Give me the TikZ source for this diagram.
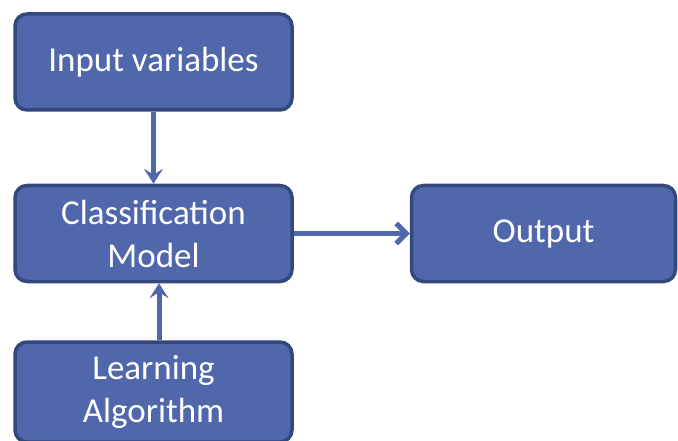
\documentclass[tikz,border=0pt]{standalone}
\usepackage{fontspec}
\setmainfont{Carlito}
\usetikzlibrary{arrows.meta, positioning}
\definecolor{boxblue}{HTML}{5067AC}
\definecolor{boxedge}{HTML}{33497E}

\begin{document}
\begin{tikzpicture}[node distance=72pt and 116pt, every node/.style={font=\fontsize{35}{43}\selectfont}]
\tikzstyle{block} = [rectangle, rounded corners=12pt, minimum width=277pt, minimum height=96pt, text centered, align=center, draw=boxedge, line width=3.5pt, fill=boxblue, text=white]
\tikzstyle{arrow} = [line width=5pt, draw=boxblue, -{Stealth[length=15pt, width=19pt, inset=6pt]}]
\tikzstyle{barb} = [line width=5pt, draw=boxblue, -{Straight Barb[length=10pt, width=20pt, line width=5pt]}]

\useasboundingbox (0,0) rectangle (678pt,-441pt);

% left column, top to bottom
\node (input) [block] at (153.5pt,-62pt) {Input variables};
\node (model) [block, below=of input] {Classification\\Model};
\node (learn) [block, below=57pt of model, minimum height=100pt] {Learning\\Algorithm};

% result on the right
\node (output) [block, right=of model, minimum width=264pt] {Output};

% arrows into the model
\draw [arrow] (input) -- (model);
\draw [arrow] ([xshift=5.5pt]learn.north) -- ([xshift=5.5pt]model.south);
\draw [barb] (model) -- (output);

\end{tikzpicture}
\end{document}
